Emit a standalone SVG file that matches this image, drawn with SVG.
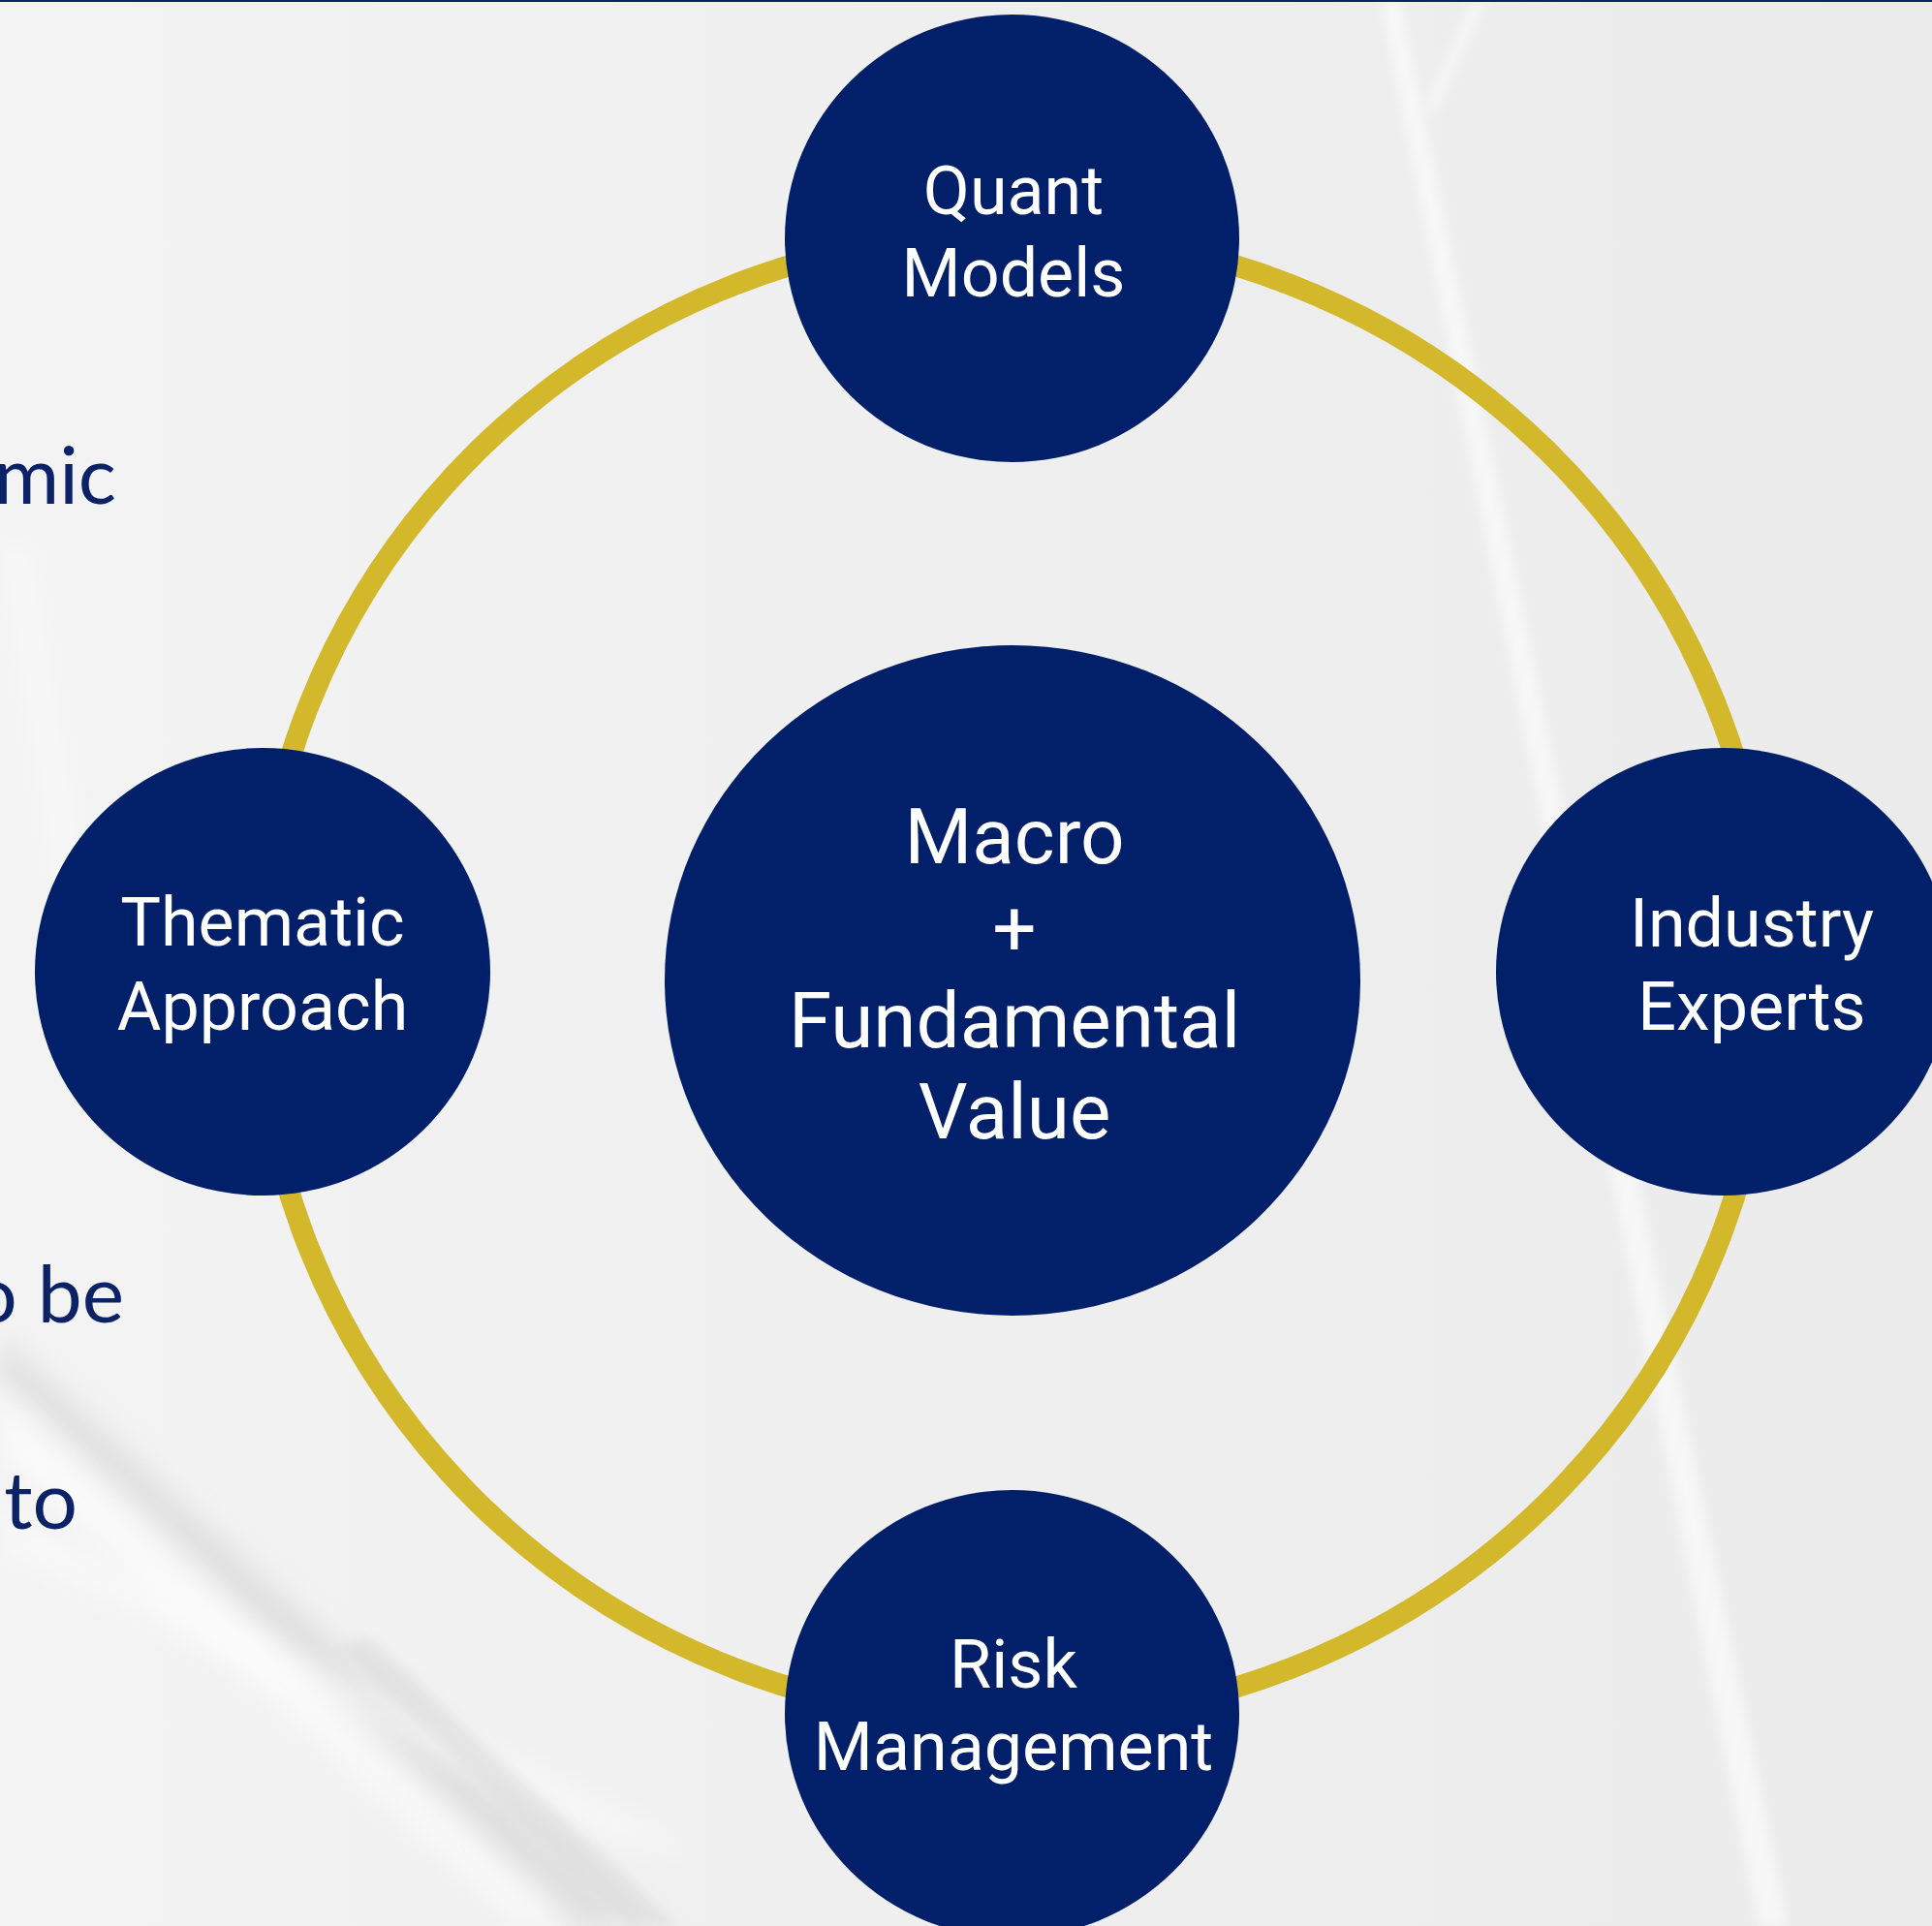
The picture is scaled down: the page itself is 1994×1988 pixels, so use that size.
<svg xmlns="http://www.w3.org/2000/svg" width="1994" height="1988" viewBox="0 0 1994 1988">
  <defs>
    <linearGradient id="bg" x1="0" y1="0" x2="1" y2="0">
      <stop offset="0" stop-color="#F3F3F3"/>
      <stop offset="1" stop-color="#EBEBEB"/>
    </linearGradient>
    <filter id="blur" x="-20%" y="-20%" width="140%" height="140%">
      <feGaussianBlur stdDeviation="6"/>
    </filter>
    <filter id="blur2" x="-20%" y="-20%" width="140%" height="140%">
      <feGaussianBlur stdDeviation="14"/>
    </filter>
    <style>
      .node { fill: #02206A; }
      .ring { fill: none; stroke: #D3B82C; stroke-width: 22; }
      .lbl { font-family: Roboto, "Noto Sans", "DejaVu Sans", sans-serif; fill: #FFFFFF; text-anchor: middle; }
      .side { font-family: Lato, "Open Sans", "Liberation Sans", sans-serif; fill: #0B2266; font-size: 82px; text-anchor: end; }
    </style>
  </defs>

  <!-- background -->
  <rect x="0" y="0" width="1994" height="1988" fill="url(#bg)"/>
  <g id="background-streaks">
    <path d="M1425,0 L1445,0 L1845,1988 L1815,1988 Z" fill="#FFFFFF" opacity="0.6" filter="url(#blur)"/>
    <path d="M1520,0 L1535,0 L1480,120 L1470,110 Z" fill="#FFFFFF" opacity="0.5" filter="url(#blur)"/>
    <path d="M0,560 L30,560 L120,1100 L90,1100 Z" fill="#FFFFFF" opacity="0.5" filter="url(#blur2)"/>
    <path d="M0,1380 L0,1420 L600,1988 L660,1988 Z" fill="#CFCFCF" opacity="0.55" filter="url(#blur2)"/>
    <path d="M0,1440 L0,1500 L540,1988 L580,1988 Z" fill="#FFFFFF" opacity="0.6" filter="url(#blur2)"/>
    <path d="M0,1560 L0,1600 L640,1900 L720,1910 Z" fill="#FFFFFF" opacity="0.5" filter="url(#blur2)"/>
    <path d="M350,1700 L380,1690 L700,1988 L650,1988 Z" fill="#D6D6D6" opacity="0.5" filter="url(#blur)"/>
  </g>
  <rect x="0" y="0" width="1994" height="2" fill="#0B2266"/>

  <!-- side text -->
  <g id="side-text">
    <text class="side" x="120" y="520">mic</text>
    <text class="side" x="128" y="1365">o be</text>
    <text class="side" x="80" y="1578">to</text>
  </g>

  <!-- connectors -->
  <g id="connectors">
    <ellipse class="ring" cx="1045" cy="1008" rx="780" ry="768"/>
  </g>

  <g id="node-center">
    <ellipse class="node" cx="1045" cy="1012" rx="359" ry="346"/>
    <text class="lbl" font-size="80" x="1047" y="891">Macro</text>
    <text class="lbl" font-size="80" x="1047" y="986">+</text>
    <text class="lbl" font-size="80" x="1047" y="1081">Fundamental</text>
    <text class="lbl" font-size="80" x="1047" y="1175">Value</text>
  </g>

  <g id="node-quant">
    <ellipse class="node" cx="1044.5" cy="246" rx="234.5" ry="231"/>
    <text class="lbl" font-size="70" x="1046" y="221">Quant</text>
    <text class="lbl" font-size="70" x="1046" y="306">Models</text>
  </g>

  <g id="node-thematic">
    <ellipse class="node" cx="271" cy="1003" rx="235" ry="231"/>
    <text class="lbl" font-size="70" x="271" y="976">Thematic</text>
    <text class="lbl" font-size="70" x="271" y="1063">Approach</text>
  </g>

  <g id="node-industry">
    <ellipse class="node" cx="1779" cy="1003" rx="235" ry="231"/>
    <text class="lbl" font-size="70" x="1808" y="977">Industry</text>
    <text class="lbl" font-size="70" x="1808" y="1063">Experts</text>
  </g>

  <g id="node-risk">
    <ellipse class="node" cx="1044.5" cy="1769" rx="234.5" ry="231"/>
    <text class="lbl" font-size="70" x="1046" y="1742">Risk</text>
    <text class="lbl" font-size="70" x="1046" y="1827">Management</text>
  </g>
</svg>
